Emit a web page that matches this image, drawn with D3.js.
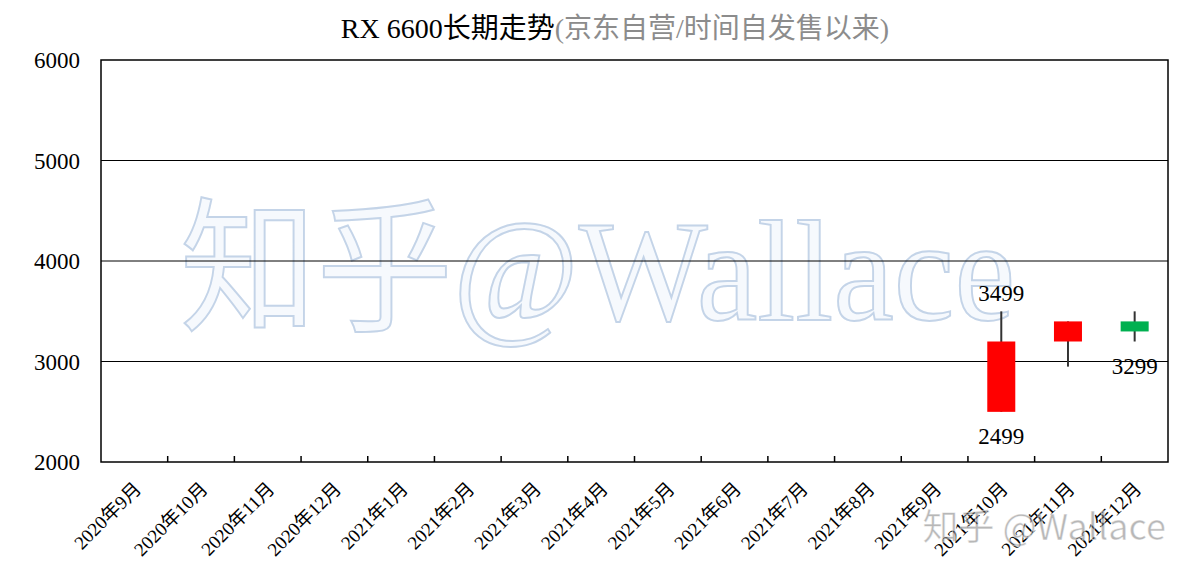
<!DOCTYPE html>
<html><head><meta charset="utf-8">
<script src="https://cdn.jsdelivr.net/npm/d3@7/dist/d3.min.js"></script>
<style>body{margin:0;background:#fff}svg{display:block}</style>
</head><body>
<svg id="c" width="1196" height="576"></svg>
<script>
const categories = ["2020年9月","2020年10月","2020年11月","2020年12月","2021年1月","2021年2月","2021年3月","2021年4月","2021年5月","2021年6月","2021年7月","2021年8月","2021年9月","2021年10月","2021年11月","2021年12月"];
const openVals  = [null,null,null,null,null,null,null,null,null,null,null,null,null,2499,3199,3399];
const closeVals = [null,null,null,null,null,null,null,null,null,null,null,null,null,3199,3399,3299];
const highVals  = [null,null,null,null,null,null,null,null,null,null,null,null,null,3499,3399,3499];
const lowVals   = [null,null,null,null,null,null,null,null,null,null,null,null,null,2499,2949,3199];
const annotations = [
  {cat:"2021年10月", value:3499, pos:"above"},
  {cat:"2021年10月", value:2499, pos:"below"},
  {cat:"2021年12月", value:3299, pos:"below"}
];
const yTicks = [2000,3000,4000,5000,6000];

const svg = d3.select("#c");
const serif = "'Liberation Serif','Times New Roman','Noto Sans CJK SC',serif";
const m = {l:101, r:1168, t:60, b:462};
const x = d3.scaleBand().domain(categories).range([m.l, m.r]);
const y = d3.scaleLinear().domain([2000,6000]).range([m.b, m.t]);

// title
const title = svg.append("text").attr("x",615).attr("y",38).attr("text-anchor","middle")
  .attr("font-family",serif).attr("font-size",28);
title.append("tspan").attr("fill","#000").text("RX 6600长期走势");
title.append("tspan").attr("fill","#8c8c8c").text("(京东自营/时间自发售以来)");

// watermark large
svg.append("text").attr("x",180).attr("y",320)
  .attr("font-family",serif).attr("font-size",145)
  .attr("fill","#f6f9fd").attr("stroke","#c4d4e8").attr("stroke-width",2)
  .attr("textLength",835).attr("lengthAdjust","spacingAndGlyphs")
  .text("知乎@Wallace");

// gridlines
svg.append("g").selectAll("line").data(yTicks.filter(v=>v>2000 && v<6000)).join("line")
  .attr("x1",m.l).attr("x2",m.r).attr("y1",d=>y(d)).attr("y2",d=>y(d))
  .attr("stroke","#000").attr("stroke-width",1);

// y labels
svg.append("g").selectAll("text").data(yTicks).join("text")
  .attr("x",80).attr("y",d=>y(d)+8).attr("text-anchor","end")
  .attr("font-family",serif).attr("font-size",23).text(d=>d);

// frame
svg.append("rect").attr("x",m.l).attr("y",m.t).attr("width",m.r-m.l).attr("height",m.b-m.t)
  .attr("fill","none").attr("stroke","#000").attr("stroke-width",1.5);

// x ticks (band boundaries)
svg.append("g").selectAll("line").data(categories.slice(1)).join("line")
  .attr("x1",d=>x(d)).attr("x2",d=>x(d)).attr("y1",m.b).attr("y2",m.b-6)
  .attr("stroke","#000").attr("stroke-width",1.5);

// x labels
svg.append("g").selectAll("text").data(categories).join("text")
  .attr("transform",d=>`translate(${x(d)+x.bandwidth()/2+8},${m.b+28}) rotate(-45)`)
  .attr("text-anchor","end").attr("font-family",serif).attr("font-size",19)
  .text(d=>d);

// candles
const candles = categories.map((c,i)=>({c, o:openVals[i], cl:closeVals[i], h:highVals[i], l:lowVals[i]})).filter(d=>d.o!=null);
const bw = x.bandwidth()*0.42;
const g = svg.append("g");
g.selectAll("line.w").data(candles).join("line")
  .attr("x1",d=>x(d.c)+x.bandwidth()/2).attr("x2",d=>x(d.c)+x.bandwidth()/2)
  .attr("y1",d=>y(d.h)).attr("y2",d=>y(d.l))
  .attr("stroke","#333").attr("stroke-width",2);
g.selectAll("rect").data(candles).join("rect")
  .attr("x",d=>x(d.c)+x.bandwidth()/2-bw/2).attr("width",bw)
  .attr("y",d=>y(Math.max(d.o,d.cl))).attr("height",d=>Math.abs(y(d.o)-y(d.cl)))
  .attr("fill",d=>d.cl>=d.o?"#ff0000":"#00b050");

// annotations
const lowOf = c => lowVals[categories.indexOf(c)];
svg.append("g").selectAll("text").data(annotations).join("text")
  .attr("x",d=>x(d.cat)+x.bandwidth()/2)
  .attr("y",d=>d.pos==="above"?y(d.value)-10:y(lowOf(d.cat))+32)
  .attr("text-anchor","middle").attr("font-family",serif).attr("font-size",23)
  .text(d=>d.value);

// bottom-right watermark
svg.append("text").attr("x",1166).attr("y",540).attr("text-anchor","end")
  .attr("font-family","'Noto Sans CJK SC','DejaVu Sans',sans-serif").attr("font-size",36)
  .attr("fill","rgba(120,120,120,0.55)").attr("stroke","rgba(255,255,255,0.6)").attr("stroke-width",1)
  .text("知乎 @Wallace");
</script>
</body></html>
